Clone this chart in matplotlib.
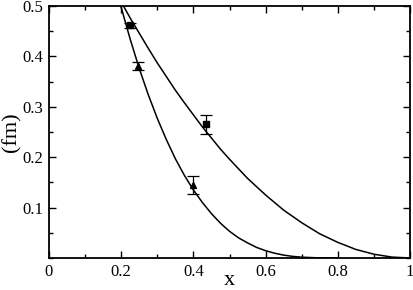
import matplotlib
matplotlib.use("Agg")
import matplotlib.pyplot as plt
from matplotlib.ticker import MultipleLocator, FixedLocator

plt.rcParams['font.family'] = ['Liberation Serif', 'DejaVu Serif']

# data points (squares and triangles) with error bars
sq_x = [0.224, 0.434]
sq_y = [0.462, 0.265]
sq_err = [0.005, 0.018]

tri_x = [0.247, 0.398]
tri_y = [0.381, 0.145]
tri_err = [0.007, 0.018]

# curves
upper_x = [0.19, 0.2, 0.225, 0.25, 0.275, 0.3, 0.325, 0.35, 0.375, 0.4, 0.425, 0.45, 0.475, 0.5,
           0.55, 0.6, 0.65, 0.7, 0.75, 0.8, 0.85, 0.9, 0.95, 1.0]
upper_y = [0.521, 0.508, 0.476, 0.446, 0.416, 0.387, 0.360, 0.333, 0.308, 0.284, 0.260, 0.238, 0.216, 0.196,
           0.158, 0.125, 0.095, 0.070, 0.048, 0.031, 0.017, 0.0075, 0.0018, 0.0]

lower_x = [0.19, 0.2, 0.225, 0.25, 0.275, 0.3, 0.325, 0.35, 0.375, 0.4, 0.425, 0.45, 0.475, 0.5,
           0.525, 0.55, 0.575, 0.6, 0.625, 0.65, 0.675, 0.7, 0.75, 0.8]
lower_y = [0.525, 0.497, 0.434, 0.376, 0.324, 0.277, 0.235, 0.197, 0.164, 0.135, 0.110, 0.088, 0.069, 0.053,
           0.040, 0.030, 0.021, 0.0145, 0.0095, 0.0057, 0.0032, 0.0016, 0.0002, 0.0]

x_ticks = [0, 0.2, 0.4, 0.6, 0.8, 1.0]
x_ticklabels = ["0", "0.2", "0.4", "0.6", "0.8", "1"]
y_ticks = [0.1, 0.2, 0.3, 0.4, 0.5]
y_ticklabels = ["0.1", "0.2", "0.3", "0.4", "0.5"]

fig = plt.figure(figsize=(4.14, 2.90), dpi=100)
ax = fig.add_axes([49/414, 1-258/290, (410-49)/414, (258-6)/290])

ax.plot(upper_x, upper_y, color='black', lw=1.1)
ax.plot(lower_x, lower_y, color='black', lw=1.1)

ax.errorbar(sq_x, sq_y, yerr=sq_err, fmt='s', color='black', ms=4.5, capsize=4.5, elinewidth=0.9, capthick=0.9)
ax.errorbar(tri_x, tri_y, yerr=tri_err, fmt='^', color='black', ms=5, capsize=4.5, elinewidth=0.9, capthick=0.9)

ax.set_xlim(0, 1)
ax.set_ylim(0, 0.5)
ax.xaxis.set_major_locator(FixedLocator(x_ticks))
ax.set_xticklabels(x_ticklabels)
ax.yaxis.set_major_locator(FixedLocator(y_ticks))
ax.set_yticklabels(y_ticklabels)
ax.xaxis.set_minor_locator(MultipleLocator(0.1))
ax.yaxis.set_minor_locator(MultipleLocator(0.05))

ax.tick_params(which='both', direction='in', top=True, right=True, labelsize=12, width=1.0)
ax.tick_params(which='major', length=5, pad=4)
ax.tick_params(which='minor', length=3)
for s in ax.spines.values():
    s.set_linewidth(1.3)

fig.text(229/414, 1-285/290, 'x', fontsize=16, ha='center', va='baseline')
fig.text(12/414, 1-132/290, '(fm)', fontsize=16, ha='center', va='center', rotation=90)

fig.savefig('out.png', dpi=100)
